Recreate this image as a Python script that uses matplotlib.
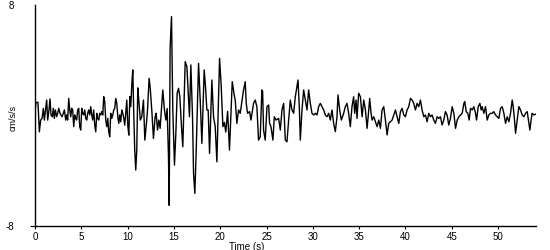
import matplotlib
matplotlib.use("Agg")
import matplotlib.pyplot as plt

plt.rcParams['font.family'] = ['Liberation Sans', 'DejaVu Sans']

time_s = [
    0.00, 0.11, 0.32, 0.47, 0.61, 0.76, 0.90, 1.01, 1.15, 1.26, 1.37, 1.51, 1.62, 1.73, 1.87, 1.98,
    2.09, 2.20, 2.34, 2.45, 2.56, 2.70, 2.81, 2.92, 3.06, 3.17, 3.32, 3.42, 3.53, 3.64, 3.75, 3.86,
    3.96, 4.07, 4.18, 4.29, 4.40, 4.50, 4.61, 4.72, 4.83, 4.94, 5.05, 5.15, 5.26, 5.37, 5.48, 5.59,
    5.69, 5.80, 5.91, 6.02, 6.13, 6.23, 6.34, 6.45, 6.56, 6.67, 6.77, 6.88, 6.99, 7.10, 7.21, 7.32,
    7.42, 7.53, 7.64, 7.75, 7.86, 7.96, 8.07, 8.18, 8.29, 8.40, 8.50, 8.61, 8.72, 8.83, 8.94, 9.05,
    9.15, 9.26, 9.37, 9.48, 9.59, 9.69, 9.80, 9.91, 10.02, 10.13, 10.24, 10.34, 10.45, 10.56, 10.67, 10.77,
    10.88, 10.99, 11.10, 11.21, 11.37, 11.53, 11.71, 11.86, 12.00, 12.14, 12.32, 12.43, 12.61, 12.79, 12.97, 13.08,
    13.23, 13.37, 13.51, 13.80, 13.98, 14.13, 14.27, 14.41, 14.49, 14.59, 14.74, 14.88, 15.06, 15.21, 15.35, 15.50,
    15.64, 15.82, 15.96, 16.22, 16.40, 16.58, 16.68, 16.83, 17.01, 17.12, 17.26, 17.41, 17.66, 17.84, 18.02, 18.27,
    18.41, 18.56, 18.70, 18.85, 19.10, 19.28, 19.46, 19.64, 19.93, 20.11, 20.29, 20.45, 20.60, 20.80, 21.00, 21.30,
    21.51, 21.62, 21.80, 21.98, 22.16, 22.34, 22.52, 22.70, 22.81, 22.95, 23.17, 23.32, 23.60, 23.78, 23.96, 24.14,
    24.32, 24.50, 24.58, 24.68, 24.86, 25.05, 25.23, 25.33, 25.48, 25.69, 25.84, 26.02, 26.31, 26.49, 26.67, 26.85,
    27.03, 27.21, 27.39, 27.57, 27.75, 27.93, 28.11, 28.29, 28.40, 28.54, 28.65, 28.83, 29.01, 29.19, 29.37, 29.55,
    29.73, 29.91, 30.09, 30.27, 30.45, 30.63, 30.81, 30.99, 31.17, 31.35, 31.53, 31.71, 31.89, 32.07, 32.25, 32.43,
    32.61, 32.72, 32.90, 33.08, 33.33, 33.51, 33.69, 33.87, 34.05, 34.23, 34.41, 34.52, 34.67, 34.77, 34.95, 35.14,
    35.32, 35.50, 35.68, 35.86, 36.04, 36.14, 36.29, 36.40, 36.58, 36.76, 36.94, 37.12, 37.30, 37.48, 37.66, 37.84,
    38.02, 38.20, 38.38, 38.56, 38.74, 38.92, 39.10, 39.28, 39.46, 39.64, 39.82, 40.00, 40.18, 40.36, 40.54, 40.72,
    40.90, 41.08, 41.26, 41.44, 41.62, 41.80, 41.98, 42.16, 42.34, 42.52, 42.70, 42.88, 43.06, 43.24, 43.42, 43.60,
    43.78, 43.96, 44.14, 44.32, 44.50, 44.68, 44.86, 45.05, 45.23, 45.41, 45.59, 45.77, 45.95, 46.13, 46.31, 46.41,
    46.56, 46.74, 46.88, 47.03, 47.21, 47.39, 47.57, 47.68, 47.86, 48.04, 48.18, 48.29, 48.47, 48.65, 48.83, 49.01,
    49.19, 49.37, 49.55, 49.73, 49.91, 50.09, 50.27, 50.45, 50.63, 50.81, 50.99, 51.17, 51.35, 51.53, 51.64, 51.78,
    51.89, 52.07, 52.25, 52.43, 52.61, 52.79, 52.97, 53.15, 53.33, 53.44, 53.57, 53.68, 53.86, 54.11,
]

accel = [
    0.28, 0.95, 0.95, -1.18, -0.33, -0.21, 0.52, -0.33, 0.52, 1.12, -0.33, 0.40, 1.20, 0.04, -0.09, 0.52,
    -0.21, 0.40, -0.09, 0.16, 0.52, 0.16, 0.04, -0.09, 0.16, 0.40, -0.33, 0.04, -0.33, 1.24, 0.40, -0.09,
    0.52, 0.40, -0.81, 0.04, -0.21, -0.33, 0.40, 0.52, -0.81, -1.05, 0.52, 0.16, 0.04, 0.40, -0.21, -0.33,
    0.16, 0.40, 0.04, 0.64, 0.04, -0.33, 0.40, -0.69, -1.18, 0.16, -0.21, -0.33, 0.16, 0.04, 0.28, 0.04,
    1.36, 1.00, -0.33, -0.81, -0.21, -1.18, -1.54, 0.16, -0.21, 0.04, 0.40, 0.52, 1.24, 0.88, -0.09, -0.57,
    0.04, -0.45, 0.40, 0.16, -0.21, -0.69, 0.16, 1.12, -0.69, -1.42, 1.36, 0.64, 2.21, 3.30, 0.00, -2.50,
    -3.95, -2.50, 2.00, 1.10, -0.33, -0.09, 1.12, -1.78, -0.81, 0.28, 2.69, 2.09, 0.40, -1.66, -0.09, 0.16,
    -1.05, -0.33, -0.93, 1.85, 0.40, -0.33, 0.50, -2.86, -6.50, 4.87, 7.16, 0.40, -3.59, -1.29, 1.61, 1.97,
    1.36, -0.81, -2.26, 3.90, 3.54, 1.12, -0.09, 3.66, -0.09, -4.19, -5.64, -2.50, 3.78, 1.12, -2.02, 3.30,
    2.09, 0.40, 0.40, -2.74, 2.57, -0.09, -0.81, -3.35, 4.14, 2.09, -0.81, -0.50, -1.20, 0.30, -2.50, 2.45,
    1.49, 1.12, -0.57, 0.40, 0.16, 1.00, 1.85, 2.45, 0.88, 0.16, 0.28, -0.33, 0.88, 1.12, 0.64, -1.78,
    -1.54, 1.85, 1.73, -1.05, -1.78, 0.64, 0.76, -0.57, -0.81, -1.78, -0.09, -0.33, -0.21, -1.05, 0.40, 0.88,
    -1.78, -1.90, -0.33, 1.12, 0.40, 0.16, 1.36, 2.09, 2.57, 0.64, -1.78, 0.40, 1.85, 1.12, 0.40, 1.85,
    0.88, 0.16, 0.04, 0.16, 0.04, 0.64, 0.88, 0.64, 0.40, 0.04, -0.09, 0.16, -0.33, 0.40, -0.57, -1.17,
    -0.09, 1.49, 0.40, -0.33, 0.16, 0.64, 0.88, 0.16, -0.81, 0.64, 1.36, 0.16, 1.12, -0.21, 1.61, 1.36,
    -0.09, 1.12, 0.40, -0.93, 0.40, 1.24, 0.16, -0.33, -0.09, -0.45, -0.81, -0.33, -0.93, 0.40, 0.64, -0.33,
    -1.41, -0.57, -0.45, -0.33, 0.04, 0.40, -0.09, -0.57, 0.28, 0.52, 0.04, -0.09, 0.40, 0.64, 1.24, 1.12,
    0.88, 0.40, 0.88, 0.64, 1.12, 0.40, -0.09, 0.04, -0.45, 0.16, -0.09, 0.04, -0.33, -0.57, -0.09, -0.21,
    -0.09, -0.69, -0.33, 0.28, 0.04, -0.69, -0.21, 0.64, 0.16, -0.93, -0.33, -0.09, 0.04, 0.16, 0.88, 1.00,
    0.28, 0.16, -0.33, 0.52, 0.40, 0.64, 0.16, -0.33, 0.64, 0.88, 0.40, 0.64, 0.16, 0.64, -0.33, 0.04,
    0.16, 0.16, 0.28, 0.04, -0.09, -0.21, 0.52, 0.64, 0.16, -0.57, -0.09, -0.45, 0.16, 1.12, 0.64, -0.33,
    -1.29, -0.33, 0.64, 0.40, 0.04, -0.09, 0.16, 0.28, -0.57, -1.05, -0.33, 0.16, 0.04, 0.11,
]

x_ticks = [0, 5, 10, 15, 20, 25, 30, 35, 40, 45, 50]
y_ticks = [-8, 8]

W, H = 550, 250
fig = plt.figure(figsize=(W / 100, H / 100), dpi=100)
ax = fig.add_axes([35 / W, (H - 226) / H, (536 - 35) / W, 221 / H])

ax.plot(time_s, accel, color='black', lw=1.0)

ax.set_xlim(0, 54.1)
ax.set_ylim(-8, 8)
for s in ['top', 'right']:
    ax.spines[s].set_visible(False)
for s in ['left', 'bottom']:
    ax.spines[s].set_linewidth(1.0)
    ax.spines[s].set_color('black')

ax.set_xticks(x_ticks)
ax.set_xticklabels([str(v) for v in x_ticks])
ax.set_yticks(y_ticks)
ax.set_yticklabels([str(v) for v in y_ticks])
ax.tick_params(axis='x', length=2.5, width=0.8, pad=2.0, labelsize=7)
ax.tick_params(axis='y', length=3.6, width=0.8, pad=11.5, labelsize=7)
ax.yaxis.get_major_ticks()[1].tick1line.set_visible(False)

fig.text(13 / W, 1 - 118 / H, 'cm/s/s', rotation=90, ha='center', va='center', fontsize=6.5)
fig.text(247 / W, 1 - 246.5 / H, 'Time (s)', ha='center', va='center', fontsize=7)

fig.savefig('out.png', dpi=100)
